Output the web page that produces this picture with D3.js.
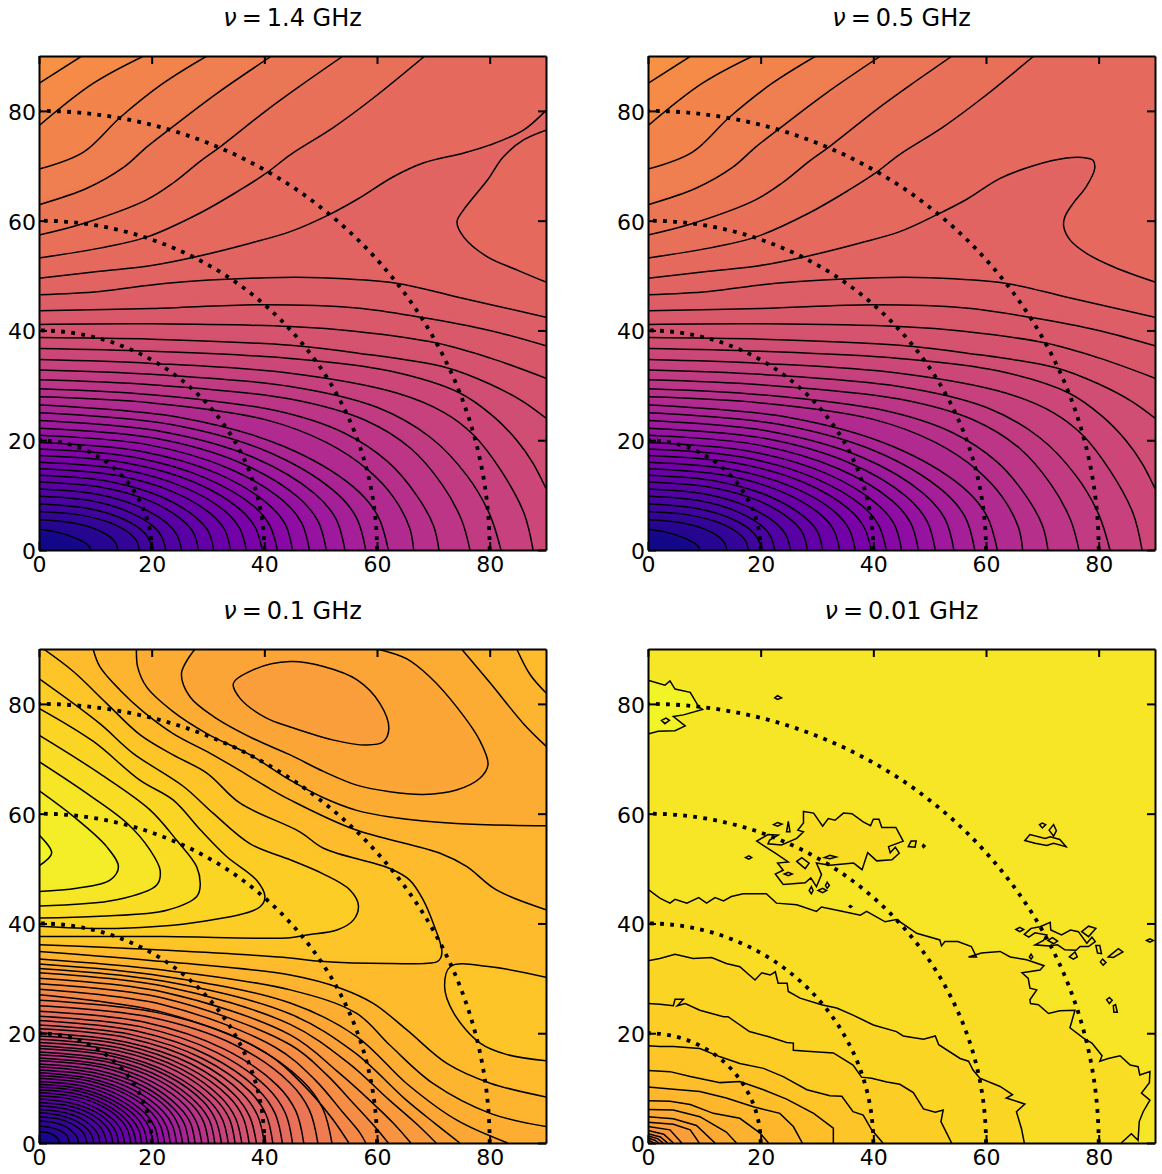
<!DOCTYPE html>
<html>
<head>
<meta charset="utf-8">
<script src="https://cdnjs.cloudflare.com/ajax/libs/d3/7.8.5/d3.min.js"></script>
<style>
  body { margin: 0; background: #fff; }
  text { font-family: "DejaVu Sans", sans-serif; fill: #000; }
</style>
</head>
<body>
<div id="chart"></div>
<script>
var freqLabels = ["1.4", "0.5", "0.1", "0.01"];
var tickLabels = [0, 20, 40, 60, 80];
var ringRadii = [20, 40, 60, 80];
var baseLevels = [0.74, 0.74, 0.835, 0.955];

// contour traces, in degrees. the filled side is to the right of travel
var upperLines = [
  [[0,85],[7.6,90]],
  [[0,77.3],[9.6,85],[18.6,90]],
  [[0,69.4],[7.9,72.5],[14.4,78.8],[22,85],[29.8,90]],
  [[0,62.9],[8.5,65.9],[15,69.7],[19.1,73.4],[23.6,77],[31.6,83.2],[41.3,90]],
  [[0,57.4],[7.9,59.5],[19.1,63.8],[24,67],[28.6,70.8],[32.1,73.4],[40.4,80.1],[46.3,84.5],[54,90]],
  [[0,53.2],[10.8,55],[19.1,57],[28.6,61.4],[35.7,65.6],[40.4,68.7],[44.6,72],[52.3,77],[59.3,82.3],[68.5,90]]
];
var upperLevels = [0.72, 0.70, 0.68, 0.66, 0.64, 0.62];

var ridge1 = [[0,49.5],[10.8,50.8],[19.1,51.7],[27.7,53.4],[37.5,55.9],[44.6,58],[51.7,61.2],[56.5,63.9],[62.9,68],[68.2,70.5],[75.3,72.3],[80.1,73.8],[86,76.5],[90,80.1]];
var pocket1 = [[90,48.8],[84.9,51],[79.6,53.4],[75.4,57],[74.2,59.8],[75.4,62],[79.6,67.4],[82.4,71.6],[86,74.7],[90,76.5]];
var ridge2 = [[0,49.5],[10.8,50.8],[19.1,51.7],[27.7,53.4],[37.5,55.9],[44.7,58],[51.5,61.2],[56.6,63.9],[62.5,67.7],[68.4,70],[74.3,71.4],[77.2,71.5],[79,71],[79.3,69.5],[77.8,66.2],[75.5,63.2],[74,60.7],[73.8,58.9],[74.9,56.5],[77.9,54],[82.6,51.6],[90,48.8]];

var lowLines = [
  [[0,46.5],[10.8,47.1],[22.7,48.6],[40.4,49.6],[50,49.6],[63.4,48.6],[74.2,46.1],[90,42.4]],
  [[0,43.6],[20,44],[40,44.7],[56.4,44.1],[67.8,42.4],[80,40],[90,37.2]],
  [[0,41.1],[20,41.2],[44.6,40.7],[56.4,39.8],[70.6,37.7],[80,35],[90,31.3]],
  [[0,38.7],[20,38.4],[44.6,37.3],[56.4,35.9],[72.4,33.2],[80.1,30.2],[86,27],[90,24]],
  [[0,36.7],[20,36.2],[44.6,34.9],[62.3,32.6],[74.7,28.6],[80.7,24.3],[84.8,20],[87.7,15.8],[90,11.2]],
  [[0,34.7],[20,34],[44.6,32.2],[63.5,28.6],[72,25],[77.1,21],[82,14.5],[86.1,6.7],[87.7,0]],
  [[0,32.8],[20,32],[44.6,29.8],[60,26],[69.5,20.5],[76,13.5],[80,6.5],[82,0]],
  [[0,31],[20,30.1],[44.6,27.5],[58,23.6],[66,18.5],[71.5,12],[75,5.5],[76.5,0]],
  [[0,29.4],[20,28.3],[42,25.4],[54,21.4],[62,16],[67,10],[70,4.5],[71,0]],
  [[0,27.9],[20,26.8],[40,23.8],[51,19.6],[58.5,14.5],[63,9.5],[65.8,4],[66.5,0]],
  [[0,26.4],[24.8,24.2],[43.4,18.9],[55.8,11.5],[60.1,6.3],[62,0]],
  [[0,25],[23.2,22.9],[40.6,17.9],[52.2,10.9],[56.3,6],[58,0]],
  [[0,23.6],[21.7,21.6],[38,16.9],[48.9,10.3],[52.7,5.7],[54.3,0]],
  [[0,22.2],[20.4,20.4],[35.7,15.9],[45.9,9.7],[49.5,5.3],[51,0]],
  [[0,20.9],[19.2,19.2],[33.6,14.9],[43.2,9.1],[46.6,5],[48,0]],
  [[0,19.6],[18,18],[31.5,14],[40.5,8.5],[43.7,4.7],[45,0]],
  [[0,18.4],[16.9,16.9],[29.6,13.1],[38.1,8],[41,4.4],[42.3,0]],
  [[0,17.2],[15.8,15.8],[27.7,12.3],[35.6,7.5],[38.4,4.1],[39.6,0]],
  [[0,16],[14.7,14.7],[25.8,11.4],[33.1,7],[35.7,3.8],[36.8,0]],
  [[0,14.8],[13.6,13.6],[23.8,10.6],[30.6,6.5],[33,3.6],[34,0]],
  [[0,13.6],[12.4,12.5],[21.7,9.7],[27.9,5.9],[30.1,3.3],[31,0]],
  [[0,12.4],[11.3,11.4],[19.8,8.9],[25.5,5.4],[27.5,3],[28.3,0]],
  [[0,11.1],[10.1,10.2],[17.7,7.9],[22.8,4.8],[24.5,2.7],[25.3,0]],
  [[0,9.8],[9,9],[15.8,7],[20.3,4.3],[21.8,2.4],[22.5,0]],
  [[0,8.4],[8,7.7],[14.1,6],[18.1,3.7],[19.5,2],[20.1,0]],
  [[0,7],[7.1,6.4],[12.5,5],[16,3.1],[17.3,1.7],[17.8,0]],
  [[0,5.5],[5.6,5],[9.8,3.9],[12.6,2.4],[13.6,1.3],[14,0]],
  [[0,3.8],[3,3.3],[5.9,2.4],[8.3,1.2],[9,0.5],[9.2,0]]
];
var lowLevels = [0.58, 0.56, 0.54, 0.52, 0.50, 0.48, 0.46, 0.44, 0.42, 0.40, 0.38, 0.36, 0.34, 0.32, 0.30, 0.28, 0.26, 0.24, 0.22, 0.20, 0.18, 0.16, 0.14, 0.12, 0.10, 0.07, 0.04, 0.01];

// nu = 0.1 GHz
var hillLines = [
  [[9.6,90],[10.8,86.8],[14.4,82.5],[18.5,78.6],[23.8,74.6],[30.4,71],[35.1,68.2],[40.4,64.9],[44.6,62.5],[55.8,57.2],[71.2,52.8],[75.9,50.4],[81.2,46.1],[90,42.5]]
];
var hillLevels = [0.855];

var slopeLines = [
  [[0,34.9],[22.7,33],[44.6,30.6],[53.5,28.2],[59.4,25.4],[65.3,20.6],[72.4,14.5],[80.1,10.9],[90,8.4]],
  [[0,33.5],[22,31.5],[44.6,27.9],[56.4,23.6],[62.3,17.8],[70,10.8],[80.1,5.4],[90,3]],
  [[0,32.6],[22,30.4],[44.6,25.5],[56.4,19.4],[65.3,10.8],[74.1,4.2],[83.2,0]],
  [[0,31.8],[22,29.5],[44.6,23.5],[56,16.5],[65,8],[70,3.8],[74.7,0]],
  [[0,31],[22,28.6],[44.6,21.6],[55,14.5],[62,8],[67,3.5],[70.5,0]],
  [[0,30],[22,27.5],[44.6,19.7],[53,13],[59,7.5],[63,3.5],[66,0]],
  [[0,29],[22,26.4],[44.6,17.9],[51,12.5],[56,7],[60,2.5],[62,0]],
  [[0,28],[22,25.2],[42,17.4],[49,11.5],[54,5.5],[57,1.8],[58,0]],
  [[0,27],[22,23.8],[40,16.6],[47,10.5],[52,4.5],[55,0]],
  [[0,26],[20.8,23.8],[36.4,18.6],[46.8,11.3],[50.4,6.2],[52,0]],
  [[0,25],[19.8,22.9],[34.7,17.9],[44.6,10.9],[48,6],[49.5,0]],
  [[0,24],[18.8,22],[32.9,17.1],[42.3,10.5],[45.6,5.8],[47,0]],
  [[0,23.1],[18,21.2],[31.5,16.5],[40.5,10.1],[43.7,5.5],[45,0]],
  [[0,22.3],[17.3,20.4],[30.2,15.9],[38.9,9.7],[41.9,5.4],[43.2,0]],
  [[0,21.5],[16.6,19.7],[29,15.4],[37.4,9.4],[40.3,5.2],[41.5,0]],
  [[0,20.8],[16,19.1],[28,14.9],[36,9.1],[38.8,5],[40,0]],
  [[0,20.1],[15.4,18.4],[27,14.4],[34.7,8.8],[37.4,4.8],[38.6,0]],
  [[0,19.5],[14.9,17.9],[26.1,13.9],[33.6,8.5],[36.2,4.7],[37.3,0]],
  [[0,18.9],[14.4,17.3],[25.2,13.5],[32.4,8.2],[34.9,4.5],[36,0]],
  [[0,18.3],[13.9,16.8],[24.4,13.1],[31.3,8],[33.8,4.4],[34.8,0]],
  [[0,17.7],[13.4,16.2],[23.5,12.6],[30.2,7.7],[32.6,4.2],[33.6,0]],
  [[0,17.2],[13,15.8],[22.7,12.3],[29.2,7.5],[31.4,4.1],[32.4,0]],
  [[0,16.6],[12.5,15.2],[21.8,11.9],[28.1,7.2],[30.3,4],[31.2,0]],
  [[0,16.1],[12,14.8],[21.1,11.5],[27.1,7],[29.2,3.9],[30.1,0]],
  [[0,15.5],[11.6,14.2],[20.2,11.1],[26,6.8],[28,3.7],[28.9,0]],
  [[0,15],[11.1,13.8],[19.4,10.7],[24.9,6.5],[26.9,3.6],[27.7,0]],
  [[0,14.4],[10.6,13.2],[18.6,10.3],[23.9,6.3],[25.8,3.5],[26.6,0]],
  [[0,13.9],[10.2,12.7],[17.9,9.9],[23,6.1],[24.7,3.3],[25.5,0]],
  [[0,13.3],[9.8,12.2],[17.1,9.5],[22,5.8],[23.7,3.2],[24.4,0]],
  [[0,12.8],[9.3,11.7],[16.3,9.1],[21,5.6],[22.6,3.1],[23.3,0]],
  [[0,12.3],[8.9,11.3],[15.6,8.8],[20.1,5.4],[21.6,3],[22.3,0]],
  [[0,11.8],[8.5,10.8],[14.8,8.4],[19.1,5.1],[20.6,2.8],[21.2,0]],
  [[0,11.2],[8.1,10.3],[14.1,8],[18.2,4.9],[19.6,2.7],[20.2,0]],
  [[0,10.7],[7.7,9.8],[13.4,7.6],[17.3,4.7],[18.6,2.6],[19.2,0]],
  [[0,10.2],[7.3,9.4],[12.7,7.3],[16.4,4.4],[17.7,2.4],[18.2,0]],
  [[0,9.7],[6.9,8.9],[12,6.9],[15.5,4.2],[16.7,2.3],[17.2,0]],
  [[0,9.2],[6.5,8.4],[11.4,6.6],[14.7,4],[15.8,2.2],[16.3,0]],
  [[0,8.6],[6.1,7.9],[10.6,6.1],[13.7,3.7],[14.7,2.1],[15.2,0]],
  [[0,8],[5.6,7.3],[9.9,5.7],[12.7,3.5],[13.7,1.9],[14.1,0]],
  [[0,7.4],[5.2,6.8],[9.2,5.3],[11.8,3.2],[12.7,1.8],[13.1,0]],
  [[0,6.8],[4.8,6.2],[8.4,4.9],[10.8,3],[11.6,1.6],[12,0]],
  [[0,6.1],[4.3,5.6],[7.6,4.4],[9.7,2.7],[10.5,1.5],[10.8,0]],
  [[0,5.5],[3.9,5],[6.8,3.9],[8.7,2.4],[9.4,1.3],[9.7,0]],
  [[0,4.8],[3.4,4.4],[6,3.4],[7.7,2.1],[8.2,1.2],[8.5,0]],
  [[0,4],[2.8,3.7],[4.9,2.9],[6.3,1.7],[6.8,1],[7,0]],
  [[0,3.1],[2.2,2.8],[3.8,2.2],[4.9,1.4],[5.2,0.7],[5.4,0]],
  [[0,2.1],[1.4,1.9],[2.5,1.5],[3.2,0.9],[3.5,0.5],[3.6,0]]
];
var slopeLevels = [0.835, 0.817, 0.80, 0.782, 0.765, 0.747, 0.729, 0.712, 0.694, 0.677, 0.659, 0.641, 0.624, 0.606, 0.589, 0.571, 0.553, 0.536, 0.518, 0.501, 0.483, 0.465, 0.448, 0.43, 0.413, 0.395, 0.377, 0.36, 0.342, 0.325, 0.307, 0.289, 0.272, 0.254, 0.237, 0.219, 0.201, 0.184, 0.166, 0.149, 0.131, 0.113, 0.096, 0.078, 0.061, 0.04, 0.015];

var peakLines = [
  [[0.8,90],[6.1,85.9],[12,80.1],[17.9,74.4],[23.8,70.7],[29.8,67.4],[35.7,61.9],[46.3,56.7],[50.5,53.7],[62.3,50],[65.8,47.9],[68.2,44.3],[70,40],[71.5,35.2],[71.3,33.7],[70.6,33],[62.3,32.7],[49.9,33.1],[44.6,33.7],[22.7,35.1],[0,36.1]],
  [[0,84.6],[10.8,76.4],[16.7,71],[25.6,65],[31,60],[37.5,54.5],[44.6,51.6],[50.5,49],[55.2,46.1],[56.7,43.3],[55.8,40.6],[52.9,38.8],[47.5,37.9],[44.6,37.4],[22,37.6],[0,37.6]],
  [[0,79.2],[9.6,73.2],[17.9,66.1],[23.8,62.5],[28.6,57.1],[33.3,52.2],[38.6,47.9],[40.1,44.9],[39.2,43],[28.6,40.3],[13.8,39.1],[0,39.5]],
  [[0,74.3],[10.8,67.3],[19.7,60.7],[24.4,55.2],[28,50.3],[28.6,46.7],[28,44.9],[22.7,42.4],[10.8,41.3],[0,41]],
  [[0,69.5],[8.5,63.7],[15.6,58.3],[19.7,53.4],[21.5,49.7],[20.9,47],[13.8,44.3],[0,43.2]],
  [[0,64.2],[6.1,59.5],[12,54],[14.1,50.3],[12.6,47.9],[6.7,46.4],[0,45.8]],
  [[0,56.1],[2.25,52.8],[0,50.5]],
  [[90,15],[83.1,16.1],[78.3,18.2],[73.6,23.7],[72,28.5],[73.1,32.2],[80.1,32.1],[90,30.2]]
];
var peakLevels = [0.875, 0.895, 0.915, 0.935, 0.955, 0.975, 0.995, 0.875];

var valleyLines = [
  [[90,57.8],[74.1,58.2],[62.3,59.4],[56.4,60.6],[50.5,62.9],[44.6,66.1],[37.5,70.7],[29.8,74.6],[23.8,78.6],[19.1,83.1],[17.5,86.8],[17.3,90]],
  [[60,90],[65.3,88.2],[69.4,84.9],[74.1,79.5],[78.2,73.4],[79.7,68.9],[78.2,66.4],[74.1,64.3],[68.2,63.5],[62.3,64],[56.4,65.2],[50.5,67.7],[44.6,70.7],[38,73.7],[31,77.7],[26.8,81.3],[25.3,85.6],[27.7,90]],
  [[44.6,87.7],[50.5,86.8],[56.4,84.4],[60.5,80.1],[62.1,75.5],[61.1,73.1],[58.2,72.5],[52.3,73.4],[44.6,75.8],[40.4,77.4],[35.7,81],[34.5,83.7],[38,86.2]],
  [[90,72.3],[86,76.4],[80.1,83.8],[75,90]],
  [[90,82],[87.2,85.3],[84.8,90]]
];
var valleyLevels = [0.815, 0.795, 0.775, 0.835, 0.855];

// nu = 0.01 GHz, jagged so these stay straight segments
var noisyLines = [
  [[0,46.2],[2.1,44.6],[3.9,43.7],[4.8,44.4],[6.9,43.7],[9,44.7],[10.4,43.7],[11.9,44.7],[13.4,44.1],[14.8,44.9],[16.9,45.4],[21,45.4],[22.8,43.7],[26.4,43.4],[29.9,42.2],[30.8,43],[34,42.3],[37.7,41.5],[38.8,42.2],[42.1,40.3],[44.1,40.7],[45.6,39.7],[47.7,38.2],[51.8,37],[52.1,35.9],[52.7,36.7],[55,36.7],[57.4,35.8],[58.3,33.9],[56.9,33.9],[59.2,34.6],[62.5,34.9],[64.3,33.9],[67.2,33.4],[70.3,32.3],[69.6,31.5],[66.4,31],[67.5,30],[67.8,28.2],[69,27.9],[67.8,26.1],[67.9,25.4],[69.3,25.2],[71.1,23.6],[73.1,24.1],[75.8,24.2],[74.9,21],[77.3,19.1],[78.8,18.2],[80.6,15.9],[80.2,14.9],[81.7,15.4],[83.8,15.9],[85.6,14.2],[87,13.9],[87.3,12.4],[89.1,13],[89,11],[87.6,9.1],[89.1,7.8],[87.9,5.7],[87.2,3.9],[87,0.5],[85.8,1.7],[84,0]],
  [[0,33.2],[2.1,33.6],[4.8,34.4],[8,33.6],[11.3,33.8],[13.9,32.7],[16.3,32.1],[19,29.7],[20.2,31],[21.7,30.6],[22.6,31.2],[23.1,29.1],[24.7,29.1],[24.9,27.6],[27,26.4],[30.8,25.2],[33.5,24.6],[36.4,23.3],[40,21.5],[44.1,20.3],[45.3,19.5],[48.9,18.9],[51,19.5],[51.6,17.9],[55.4,15.4],[56.9,14.9],[57.7,13.3],[58.9,11.8],[62.5,10.3],[64.7,8.8],[63.6,8.2],[66.9,7.1],[65.4,5.7],[66.3,2.6],[66.8,0]],
  [[0,25.4],[2.1,25.3],[4.5,25],[4.8,26.2],[6.3,26.2],[5.2,25],[6.6,25.4],[9.2,24.2],[13.4,23],[14.2,23],[18,20.3],[21.3,19.4],[24.6,18.3],[25.8,18.2],[25.8,16.9],[28.2,16.7],[32.9,16.4],[36.4,14.2],[37.9,12],[39.7,11.8],[42.4,11.1],[44.7,10.7],[47.1,9.2],[48.9,6.2],[51,5.6],[52.4,6],[52,3.9],[53.9,0]],
  [[0,17.7],[2.1,17.6],[4.5,17.6],[9.2,17.2],[12.8,15.7],[16.3,14.5],[20.5,13.6],[24,12.1],[28.2,9.7],[32.3,8.6],[34.4,8.5],[36.4,5.7],[38.2,5.1],[39.7,2.4],[41.7,0]],
  [[0,13.2],[3.9,13],[7.5,12.1],[12.8,11],[16.3,11.2],[20.5,9.7],[24.6,8],[29.4,5.4],[32.9,2.7],[32.9,0]],
  [[0,10.2],[4.5,9.8],[9.2,9.4],[13.9,8.2],[18.7,6.6],[23.4,5.4],[25.8,3],[27.4,0]],
  [[0,7.7],[3.9,7.6],[7.5,7],[11.6,5.4],[16.3,4.5],[19.9,1.8],[21.4,0]],
  [[0,6.1],[4.5,6],[9.2,4.8],[13.9,2],[15.7,0]],
  [[0,4.8],[4.5,4.4],[8.6,3.2],[11.9,0]],
  [[0,3.8],[4.5,3.4],[7.5,2.4],[9.1,0]],
  [[0,3],[3.9,2.4],[6,0]],
  [[0,2.3],[2.8,1.6],[4.5,0]],
  [[0,1.7],[2.2,1.1],[3.5,0]],
  [[0,1.3],[1.7,0.8],[2.7,0]],
  [[0,0.9],[1.2,0.5],[1.9,0]],
  [[0,0.5],[0.6,0.3],[1,0]]
];
var noisyLevels = [0.935, 0.915, 0.895, 0.875, 0.86, 0.84, 0.825, 0.805, 0.79, 0.775, 0.76, 0.745, 0.73, 0.715, 0.70, 0.685];

var islandLines = [
  [[27.6,60.4],[29.4,60.1],[31,57.7],[32,59.1],[33.2,58.8],[34.7,60.1],[36.2,60],[38.2,58.5],[39.5,57.8],[40,59],[41,59],[41.5,57.5],[44,57.5],[45.3,55],[42.7,54],[43,52.9],[43.9,53.9],[44.6,52.8],[43.3,51.6],[40.6,51.4],[39,52.9],[38,49.8],[36.5,51],[32.3,50.6],[29.9,51],[30.8,48.9],[29.9,46.7],[28.9,48.3],[27.9,47.4],[24,47.1],[22.6,49],[24,49.7],[23,51],[24.9,51.2],[22.6,52.8],[19.3,55],[21.3,56.2],[23.1,56.1],[21.6,55.2],[21.3,54.5],[23.7,54.3],[26.4,55.5],[27.6,56.7],[26.6,57],[27.6,58.3]],
  [[66.9,55.1],[67.8,56.2],[70.5,55.5],[71.4,55.8],[73.1,55.3],[74.2,54],[72,54.6],[70.8,54.2],[68.7,54.6]],
  [[71.2,57],[72,58],[72.5,56.9],[72,55.9]],
  [[69.5,58],[70,58.3],[70.6,58],[70,57.4]],
  [[66.8,38],[68,39.1],[69.6,39.4],[71.4,40.2],[71.5,38.8],[73.4,37.9],[75,38.8],[76.4,38.5],[77.9,36.4],[78.8,37.5],[79.4,36.7],[78.2,35.8],[76.7,35.8],[76,35.1],[74,35.2],[72.7,36.1],[71.2,35.9],[68.7,36.1],[70.2,36.9],[70.8,37.9],[68.7,38.3],[67.6,37.5]],
  [[77,38.5],[78.2,39.5],[79.5,39.1],[78.2,37.6]],
  [[65.3,38.9],[66,39.3],[66.7,38.9],[66,38.5]],
  [[79.5,36],[80.2,36],[80.5,34.5],[79.8,34.6]],
  [[81.7,33.9],[83.5,35.4],[84.3,34.8],[82.6,33.8]],
  [[80.3,33],[80.7,33.5],[81.3,32.9],[80.8,32.4]],
  [[74.8,33.9],[75.8,34.8],[76.2,33.9],[75.5,33.5]],
  [[67.7,33.9],[68,34.4],[68.3,33.9],[68,33.5]],
  [[81.4,26.1],[81.9,26.5],[82.4,26],[81.9,25.4]],
  [[82.6,25],[83,25.2],[83.3,23.8],[82.7,23.8]],
  [[88.5,36.9],[89.1,37.2],[89.7,36.9],[89.1,36.6]],
  [[46.2,54],[46.7,55],[47.6,55],[47.4,53.9]],
  [[48.7,54.1],[48.9,54.4],[49.2,54.1],[48.9,53.8]],
  [[22.5,81.1],[23,81.5],[23.7,81.1],[23,80.8]],
  [[24.6,56.7],[24.9,58.6],[25.2,56.7]],
  [[22.3,58],[23,58.4],[23.8,58.1],[23,57.7]],
  [[17.3,52],[17.9,52.3],[18.4,52],[17.9,51.7]],
  [[24.2,49],[24.9,49.3],[25.6,49],[24.9,48.7]],
  [[31.3,52],[32.3,52.4],[33.4,52.1],[32.3,51.8]],
  [[28.6,46],[29,46.7],[29.3,46],[29,45.4]],
  [[30.2,46],[31,46.4],[31.7,46],[31,45.6]],
  [[31.5,46.9],[31.8,47.5],[32.2,46.9],[31.8,46.4]],
  [[35.7,43.1],[35.9,43.3],[36.2,43.1],[35.9,42.9]]
];
var islandLevel = 0.935;
var blobLine = [[0,84.3],[3,83.4],[3.9,84.2],[4.8,82.7],[7.5,82.1],[9,79.5],[9.7,79],[6.3,78],[4.5,77.7],[6.6,76],[4.8,75.1],[1.8,75],[0,74.5]];
var blobLevel = 0.985;
var holeLines = [
  [[26.4,51.3],[27.3,52],[28.6,51],[27.9,50]],
  [[71,36.9],[71.8,37.4],[72.7,36.8],[72,36.3]],
  [[2.4,77],[3.2,77.4],[3.8,77],[3,76.4]]
];
var holeLevel = 0.955;

var width = 1162,
    height = 1174,
    plotW = 507,
    plotH = 494,
    columns = [39, 648],
    rows = [56, 649];

var x = d3.scaleLinear().domain([0, 90]).range([0, plotW]);
var y = d3.scaleLinear().domain([0, 90]).range([plotH, 0]);

var svg = d3.select("#chart").append("svg")
    .attr("width", width)
    .attr("height", height);

var defs = svg.append("defs");
defs.append("clipPath").attr("id", "plot-clip")
  .append("rect").attr("width", plotW).attr("height", plotH);
defs.append("filter").attr("id", "soften")
    .attr("filterUnits", "userSpaceOnUse")
    .attr("x", -60).attr("y", -60).attr("width", plotW + 120).attr("height", plotH + 120)
    .attr("color-interpolation-filters", "sRGB")
  .append("feGaussianBlur").attr("stdDeviation", 3);

var trace = d3.line().x(function(d) { return x(d[0]); }).y(function(d) { return y(d[1]); });

function onEdge(p) { return p[0] <= 0 || p[0] >= 90 || p[1] <= 0 || p[1] >= 90; }

// position of an edge point walking clockwise from the top left corner
function edgePos(p) {
  if (p[1] >= 90) return p[0];
  if (p[0] >= 90) return 180 - p[1];
  if (p[1] <= 0) return 270 - p[0];
  return 270 + p[1];
}

function pushOut(p) {
  if (p[0] <= 0) return [-10, p[1]];
  if (p[0] >= 90) return [100, p[1]];
  if (p[1] <= 0) return [p[0], -10];
  return [p[0], 100];
}

function xy(p) { return x(p[0]) + "," + y(p[1]); }

// closed shape for a trace: the trace, then clockwise round the frame back to its start
function fillPath(pts, curve, loopCurve) {
  var first = pts[0], last = pts[pts.length - 1];
  if (!onEdge(first)) return trace.curve(loopCurve)(pts);
  var from = edgePos(last), to = edgePos(first);
  if (to <= from) to += 360;
  var corners = {0: [-10, 100], 90: [100, 100], 180: [100, -10], 270: [-10, -10]};
  var path = "M" + xy(pushOut(first)) + "L" + trace.curve(curve)(pts).slice(1) + "L" + xy(pushOut(last));
  [90, 180, 270, 360, 450, 540, 630].forEach(function(c) {
    if (c > from && c < to) path += "L" + xy(corners[c % 360]);
  });
  return path + "Z";
}

function strokePath(pts, curve, loopCurve) {
  return trace.curve(onEdge(pts[0]) ? curve : loopCurve)(pts);
}

function drawPanel(col, row, label, base, lines, levels, curve, loopCurve) {
  var g = svg.append("g").attr("transform", "translate(" + columns[col] + "," + rows[row] + ")");
  var plot = g.append("g").attr("clip-path", "url(#plot-clip)");

  var fills = plot.append("g").attr("filter", "url(#soften)");
  fills.append("rect")
      .attr("x", -60).attr("y", -60)
      .attr("width", plotW + 120).attr("height", plotH + 120)
      .attr("fill", d3.interpolatePlasma(base));
  fills.selectAll("path")
      .data(lines)
    .enter().append("path")
      .attr("d", function(d) { return fillPath(d, curve, loopCurve); })
      .attr("fill", function(d, i) { return d3.interpolatePlasma(levels[i]); });

  plot.append("g").selectAll("path")
      .data(lines)
    .enter().append("path")
      .attr("d", function(d) { return strokePath(d, curve, loopCurve); })
      .attr("fill", "none")
      .attr("stroke", "#000")
      .attr("stroke-width", 1.5);

  // dotted rings, drawn from the bottom axis up
  plot.append("g").selectAll("path")
      .data(ringRadii)
    .enter().append("path")
      .attr("d", function(r) {
        return "M" + x(r) + "," + y(0) + "A" + (x(r) - x(0)) + "," + (y(0) - y(r)) + " 0 0 0 " + x(0) + "," + y(r);
      })
      .attr("fill", "none")
      .attr("stroke", "#000")
      .attr("stroke-width", 3.8)
      .attr("stroke-dasharray", "3.8 6.3");

  var axes = [
    d3.axisBottom(x).tickFormat(d3.format("d")).tickPadding(6),
    d3.axisLeft(y).tickFormat(d3.format("d")).tickPadding(3),
    d3.axisTop(x).tickFormat(""),
    d3.axisRight(y).tickFormat("")
  ];
  var shifts = ["translate(0," + plotH + ")", null, null, "translate(" + plotW + ",0)"];
  axes.forEach(function(axis, i) {
    var a = g.append("g")
        .attr("transform", shifts[i])
        .call(axis.tickValues(tickLabels).tickSizeInner(-8).tickSizeOuter(0));
    a.selectAll("text").style("font-size", "22px");
    if (i === 1) a.selectAll("text").attr("dy", "0.38em");
    a.selectAll("line").attr("stroke-width", 2);
    a.select(".domain").attr("stroke-width", 2);
  });

  var title = g.append("text")
      .attr("x", plotW / 2)
      .attr("y", -30)
      .attr("text-anchor", "middle")
      .style("font-size", "24px");
  title.append("tspan").style("font-style", "italic").text("\u03bd");
  title.append("tspan").attr("dx", 5).text("=");
  title.append("tspan").attr("dx", 5).text(label);
  title.append("tspan").text(" GHz");
}

var smooth = d3.curveCatmullRom.alpha(0.5);
var smoothLoop = d3.curveCatmullRomClosed.alpha(0.5);

drawPanel(0, 0, freqLabels[0], baseLevels[0],
  upperLines.concat([ridge1, pocket1], lowLines),
  upperLevels.concat([0.60, 0.62], lowLevels), smooth, smoothLoop);

drawPanel(1, 0, freqLabels[1], baseLevels[1],
  upperLines.concat([ridge2], lowLines),
  upperLevels.concat([0.60], lowLevels), smooth, smoothLoop);

drawPanel(0, 1, freqLabels[2], baseLevels[2],
  hillLines.concat(slopeLines, peakLines, valleyLines),
  hillLevels.concat(slopeLevels, peakLevels, valleyLevels), smooth, smoothLoop);

drawPanel(1, 1, freqLabels[3], baseLevels[3],
  noisyLines.concat(islandLines, [blobLine], holeLines),
  noisyLevels.concat(islandLines.map(function() { return islandLevel; }), [blobLevel], holeLines.map(function() { return holeLevel; })),
  d3.curveLinear, d3.curveLinearClosed);
</script>
</body>
</html>
